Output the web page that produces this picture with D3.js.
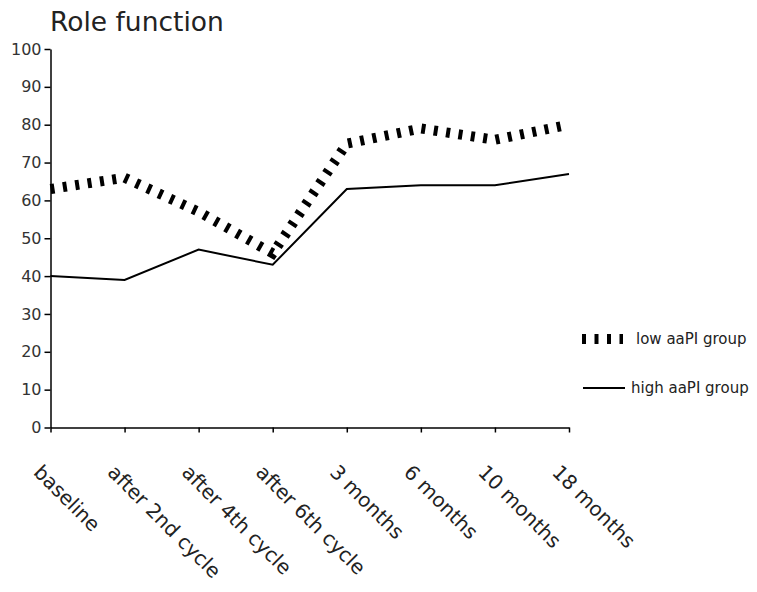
<!DOCTYPE html>
<html>
<head>
<meta charset="utf-8">
<script src="https://cdn.jsdelivr.net/npm/d3@7"></script>
<style>
  html, body { margin: 0; padding: 0; background: #fff; }
  .chart-container { width: 757px; height: 592px; }
  text { font-family: "DejaVu Sans", sans-serif; }
</style>
</head>
<body>
<div class="chart-container"></div>
<script>
// données
const categories = ['baseline', 'after 2nd cycle', 'after 4th cycle', 'after 6th cycle',
    '3 months', '6 months', '10 months', '18 months'];
const lowGroup = [63, 66, 57, 46, 75, 79, 76, 80];
const highGroup = [40, 39, 47, 43, 63, 64, 64, 67];
const yTicks = [0, 10, 20, 30, 40, 50, 60, 70, 80, 90, 100];
const seriesNames = ['low aaPI group', 'high aaPI group'];

const width = 757, height = 592;
const margin = { top: 49, right: 188, bottom: 164.5, left: 50.5 };
const innerWidth = width - margin.left - margin.right;
const innerHeight = height - margin.top - margin.bottom;

let svg = d3.select('.chart-container')
    .append('svg')
    .attr('width', width)
    .attr('height', height);

// titre
svg.append('text')
    .attr('x', 50)
    .attr('y', 31)
    .attr('font-size', 26.5)
    .attr('fill', '#222')
    .text('Role function');

let g = svg.append('g')
    .attr('transform', `translate(${margin.left},${margin.top})`);

// échelles
let xScale = d3.scalePoint()
    .domain(categories)
    .range([0, innerWidth])
    .padding(0);

let yScale = d3.scaleLinear()
    .domain([0, 100])
    .range([innerHeight, 0]);

// axe Y
let yAxis = g.append('g')
    .call(d3.axisLeft(yScale).tickValues(yTicks).tickSize(6).tickSizeOuter(0).tickPadding(3));
yAxis.select('.domain').attr('stroke', '#000').attr('stroke-width', 1.5);
yAxis.selectAll('.tick line').attr('stroke', '#000').attr('stroke-width', 1.5);
yAxis.selectAll('.tick text')
    .attr('font-size', 16)
    .attr('font-family', '"DejaVu Sans", sans-serif')
    .attr('fill', '#333');

// axe X
let xAxis = g.append('g')
    .attr('transform', `translate(0,${innerHeight})`)
    .call(d3.axisBottom(xScale).tickSize(5).tickSizeOuter(0));
xAxis.select('.domain').attr('stroke', '#000').attr('stroke-width', 1.5);
xAxis.selectAll('.tick line').attr('stroke', '#000').attr('stroke-width', 1.5);
xAxis.selectAll('.tick text').remove();

// étiquettes X tournées à 45°
g.selectAll('.xlabel')
    .data(categories)
    .enter()
    .append('text')
    .attr('class', 'xlabel')
    .attr('transform', d => `translate(${xScale(d) - 18},${innerHeight + 46}) rotate(45)`)
    .attr('font-size', 20)
    .attr('fill', '#222')
    .text(d => d);

let line = d3.line()
    .x((d, i) => xScale(categories[i]))
    .y(d => yScale(d));

// high aaPI group : trait plein
g.append('path')
    .datum(highGroup)
    .attr('fill', 'none')
    .attr('stroke', '#000')
    .attr('stroke-width', 2)
    .attr('d', line);

// low aaPI group : gros pointillés
g.append('path')
    .datum(lowGroup)
    .attr('fill', 'none')
    .attr('stroke', '#000')
    .attr('stroke-width', 10)
    .attr('stroke-dasharray', '4,8.5')
    .attr('d', line);

// légende
const legend = svg.append('g');
const legendY = [339, 388];

legend.append('line')
    .attr('x1', 582).attr('x2', 623)
    .attr('y1', legendY[0]).attr('y2', legendY[0])
    .attr('stroke', '#000')
    .attr('stroke-width', 10)
    .attr('stroke-dasharray', '4,8.5');

legend.append('line')
    .attr('x1', 583).attr('x2', 625)
    .attr('y1', legendY[1]).attr('y2', legendY[1])
    .attr('stroke', '#000')
    .attr('stroke-width', 2);

legend.selectAll('.legend-text')
    .data(seriesNames)
    .enter()
    .append('text')
    .attr('class', 'legend-text')
    .attr('x', (d, i) => i === 0 ? 636 : 631)
    .attr('y', (d, i) => legendY[i])
    .attr('dy', '0.35em')
    .attr('font-size', 15)
    .attr('fill', '#222')
    .text(d => d);
</script>
</body>
</html>
